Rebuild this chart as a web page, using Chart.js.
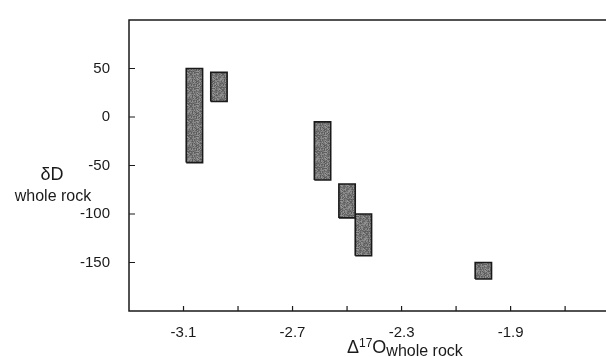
<!DOCTYPE html>
<html>
<head>
<meta charset="utf-8">
<script src="https://cdn.jsdelivr.net/npm/chart.js@4.4.1/dist/chart.umd.min.js"></script>
<style>
  html, body { margin: 0; padding: 0; background: #fff; }
  #wrap { width: 606px; height: 357px; position: relative; }
</style>
</head>
<body>
<div id="wrap"><canvas id="c" width="606" height="357"></canvas></div>
<script>
// ---- data ----
const boxXLow  = [-3.09, -3.00, -2.62, -2.53, -2.47, -2.03];
const boxXHigh = [-3.03, -2.94, -2.56, -2.47, -2.41, -1.97];
const boxYLow  = [-47,    16,   -65,  -104,  -143,  -167];
const boxYHigh = [ 50,    46,    -5,   -69,  -100,  -150];
const xTickValues = [-3.1, -2.9, -2.7, -2.5, -2.3, -2.1, -1.9, -1.7];
const xTickLabels = [-3.1, -2.7, -2.3, -1.9];
const yTickValues = [50, 0, -50, -100, -150];

const INK = '#1a1a1a';
const FONT = "'Liberation Sans', Arial, Helvetica, sans-serif";

// fixed stipple texture (style only, deterministic hash)
function stipple() {
  const n = 16;
  const c = document.createElement('canvas');
  c.width = n; c.height = n;
  const g = c.getContext('2d');
  for (let j = 0; j < n; j++) {
    for (let i = 0; i < n; i++) {
      let h = (i * 374761393 + j * 668265263) >>> 0;
      h = ((h ^ (h >>> 13)) * 1274126177) >>> 0;
      h = (h ^ (h >>> 16)) & 255;
      const v = 88 + Math.round(h / 255 * 64);
      g.fillStyle = `rgb(${v},${v},${v})`;
      g.fillRect(i, j, 1, 1);
    }
  }
  return g.createPattern(c, 'repeat');
}
const FILL = stipple();

const datasets = boxXLow.map((x0, i) => ({
  type: 'scatter',
  data: [
    {x: x0, y: boxYLow[i]},
    {x: boxXHigh[i], y: boxYLow[i]},
    {x: boxXHigh[i], y: boxYHigh[i]},
    {x: x0, y: boxYHigh[i]},
    {x: x0, y: boxYLow[i]}
  ],
  showLine: true,
  fill: 'shape',
  backgroundColor: FILL,
  borderColor: INK,
  borderWidth: 1.6,
  pointRadius: 0,
  tension: 0
}));

const framePlugin = {
  id: 'frame',
  afterDraw(chart) {
    const {ctx, chartArea: a, scales} = chart;
    ctx.save();
    ctx.strokeStyle = INK;
    ctx.lineWidth = 1.5;
    ctx.beginPath();
    ctx.moveTo(a.right, a.top);
    ctx.lineTo(a.left, a.top);
    ctx.lineTo(a.left, a.bottom);
    ctx.lineTo(a.right, a.bottom);
    ctx.stroke();
    ctx.lineWidth = 1.2;
    ctx.beginPath();
    xTickValues.forEach(v => {
      const px = scales.x.getPixelForValue(v);
      ctx.moveTo(px, a.bottom);
      ctx.lineTo(px, a.bottom - 5);
    });
    yTickValues.forEach(v => {
      const py = scales.y.getPixelForValue(v);
      ctx.moveTo(a.left, py);
      ctx.lineTo(a.left + 6, py);
    });
    ctx.stroke();

    // y axis title
    ctx.fillStyle = INK;
    ctx.textAlign = 'center';
    ctx.textBaseline = 'alphabetic';
    ctx.font = '18px ' + FONT;
    ctx.fillText('δD', a.left - 77, a.top + 160);
    ctx.font = '16px ' + FONT;
    ctx.fillText('whole rock', a.left - 76, a.top + 181);

    // x axis title: Δ^17O_whole rock
    ctx.textAlign = 'left';
    let x = 347;
    const base = 353;
    ctx.font = '18px ' + FONT;
    ctx.fillText('Δ', x, base);
    x += ctx.measureText('Δ').width;
    ctx.font = '12px ' + FONT;
    ctx.fillText('17', x, base - 6);
    x += ctx.measureText('17').width;
    ctx.font = '18px ' + FONT;
    ctx.fillText('O', x, base);
    x += ctx.measureText('O').width;
    ctx.font = '16px ' + FONT;
    ctx.fillText('whole rock', x, base + 3);
    ctx.restore();
  }
};

new Chart(document.getElementById('c'), {
  data: { datasets },
  options: {
    responsive: false,
    animation: false,
    layout: { padding: { top: 12, right: 0, left: 0, bottom: 0 } },
    plugins: { legend: { display: false }, tooltip: { enabled: false } },
    scales: {
      x: {
        type: 'linear',
        min: -3.3, max: -1.55,
        grid: { display: false },
        border: { display: false },
        afterBuildTicks: s => { s.ticks = xTickValues.map(v => ({value: v})); },
        afterFit: s => { s.height = 46; },
        ticks: {
          padding: 5,
          color: INK,
          font: { family: FONT, size: 15 },
          maxRotation: 0,
          autoSkip: false,
          callback: v => xTickLabels.some(t => Math.abs(t - v) < 1e-6) ? v.toFixed(1) : ''
        }
      },
      y: {
        type: 'linear',
        min: -200, max: 100,
        grid: { display: false },
        border: { display: false },
        afterBuildTicks: s => { s.ticks = yTickValues.map(v => ({value: v})); },
        afterFit: s => { s.width = 129; },
        ticks: {
          padding: 11,
          color: INK,
          font: { family: FONT, size: 15 },
          callback: v => String(v)
        }
      }
    }
  },
  plugins: [framePlugin]
});
</script>
</body>
</html>
